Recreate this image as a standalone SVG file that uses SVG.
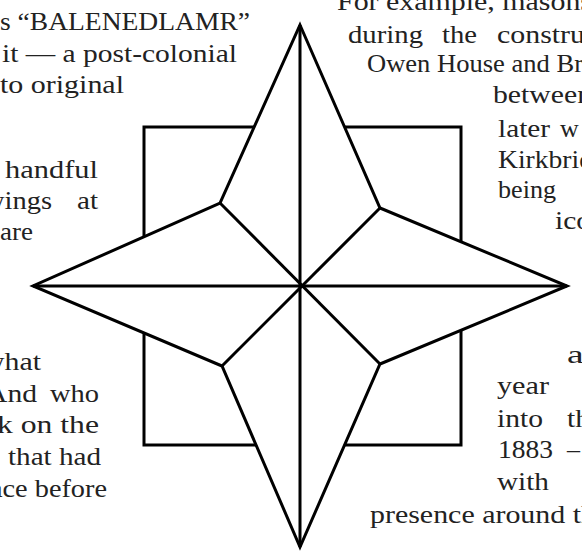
<svg xmlns="http://www.w3.org/2000/svg" width="582" height="555" viewBox="0 0 582 555">
<style>
.ln{fill:none;stroke:#000;stroke-width:3;stroke-linejoin:miter;stroke-miterlimit:20}
.st{fill:#fff;stroke:#000;stroke-width:3;stroke-linejoin:miter;stroke-miterlimit:20}
.t{font-family:"Liberation Serif","Times New Roman",serif;font-size:26px;fill:#222}
</style>
<rect width="582" height="555" fill="#fff"/>
<g id="text">
<text class="t" x="0" y="30" textLength="250" lengthAdjust="spacingAndGlyphs">s “BALENEDLAMR”</text>
<text class="t" x="2" y="62" textLength="235" lengthAdjust="spacingAndGlyphs">it — a post-colonial</text>
<text class="t" x="0" y="93" textLength="124" lengthAdjust="spacingAndGlyphs">to original</text>
<text class="t" x="-16" y="178" textLength="114" lengthAdjust="spacingAndGlyphs">a handful</text>
<text class="t" x="-16" y="209" textLength="68" lengthAdjust="spacingAndGlyphs">wings</text>
<text class="t" x="77" y="209" textLength="21" lengthAdjust="spacingAndGlyphs">at</text>
<text class="t" x="0" y="240" textLength="33" lengthAdjust="spacingAndGlyphs">are</text>
<text class="t" x="-17" y="370" textLength="58" lengthAdjust="spacingAndGlyphs">what</text>
<text class="t" x="-14" y="402" textLength="51" lengthAdjust="spacingAndGlyphs">And</text>
<text class="t" x="50" y="402" textLength="49" lengthAdjust="spacingAndGlyphs">who</text>
<text class="t" x="-3" y="433" textLength="102" lengthAdjust="spacingAndGlyphs">k on the</text>
<text class="t" x="8" y="465" textLength="93" lengthAdjust="spacingAndGlyphs">that had</text>
<text class="t" x="-10" y="497" textLength="117" lengthAdjust="spacingAndGlyphs">ace before</text>
<text class="t" x="337" y="10" textLength="255" lengthAdjust="spacingAndGlyphs">For example, masons</text>
<text class="t" x="348" y="43" textLength="75" lengthAdjust="spacingAndGlyphs">during</text>
<text class="t" x="442" y="43" textLength="35" lengthAdjust="spacingAndGlyphs">the</text>
<text class="t" x="497" y="43" textLength="88" lengthAdjust="spacingAndGlyphs">constru</text>
<text class="t" x="367" y="72" textLength="216" lengthAdjust="spacingAndGlyphs">Owen House and Br</text>
<text class="t" x="493" y="103" textLength="99" lengthAdjust="spacingAndGlyphs">between</text>
<text class="t" x="498" y="137" textLength="52" lengthAdjust="spacingAndGlyphs">later</text>
<text class="t" x="560" y="137">w</text>
<text class="t" x="498" y="168" textLength="95" lengthAdjust="spacingAndGlyphs">Kirkbrid</text>
<text class="t" x="498" y="198" textLength="58" lengthAdjust="spacingAndGlyphs">being</text>
<text class="t" x="555" y="229" textLength="36" lengthAdjust="spacingAndGlyphs">ico</text>
<text class="t" x="567" y="363" textLength="29" lengthAdjust="spacingAndGlyphs">ar</text>
<text class="t" x="497" y="394" textLength="52" lengthAdjust="spacingAndGlyphs">year</text>
<text class="t" x="497" y="427" textLength="46" lengthAdjust="spacingAndGlyphs">into</text>
<text class="t" x="567" y="427" textLength="23" lengthAdjust="spacingAndGlyphs">th</text>
<text class="t" x="498" y="458" textLength="55" lengthAdjust="spacingAndGlyphs">1883</text>
<text class="t" x="567" y="458">–</text>
<text class="t" x="497" y="490" textLength="52" lengthAdjust="spacingAndGlyphs">with</text>
<text class="t" x="370" y="523" textLength="226" lengthAdjust="spacingAndGlyphs">presence around th</text>
</g>
<g id="square">
<rect class="ln" x="144" y="127" width="317" height="318"/>
</g>
<g id="star">
<polygon class="st" points="300,25 380,208 567,286 380,364 300,547 222,366 33,286 220,203"/>
</g>
<g id="connectors">
<line class="ln" x1="300" y1="25" x2="300" y2="547"/>
<line class="ln" x1="33" y1="286" x2="567" y2="286"/>
<line class="ln" x1="220" y1="203" x2="380" y2="364"/>
<line class="ln" x1="380" y1="208" x2="222" y2="366"/>
</g>
</svg>
